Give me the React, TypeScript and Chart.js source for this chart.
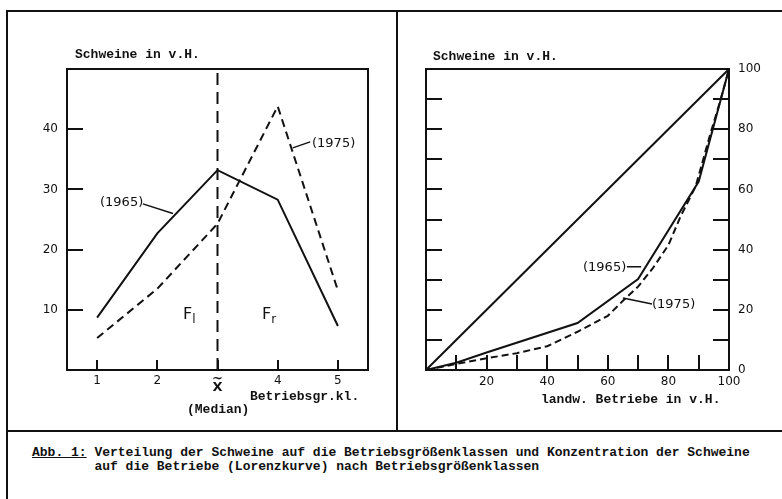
import React, { useEffect, useRef } from 'react';
import { Chart, registerables } from 'chart.js';
Chart.register(...registerables);

// ---------- data ----------
const classes = [1, 2, 3, 4, 5];
const classLabels: (string | string[])[] = ['1', '2', ['~', 'X'], '4', '5'];
const share1965 = [8.7, 22.7, 33.2, 28.3, 7.3];
const share1975 = [5.3, 13.5, 24.3, 43.8, 13.2];
const leftYTicks = [10, 20, 30, 40];
const leftYMax = 50;
const medianClass = 3;

const lorenzX1965 = [0, 10, 20, 50, 70, 90, 100];
const lorenzY1965 = [0, 2.4, 5.8, 15.6, 30.2, 62.6, 100];
const lorenzX1975 = [0, 10, 20, 30, 40, 50, 60, 65, 70, 75, 80, 84, 89, 94, 97, 100];
const lorenzY1975 = [0, 2, 3.9, 5.6, 7.9, 12.7, 18, 23, 27.7, 34, 41.5, 51, 61, 79, 89, 100];
const equalityX = [0, 100];
const equalityY = [0, 100];
const rightLabelTicks = [0, 20, 40, 60, 80, 100];
const rightMinorTicks = [10, 20, 30, 40, 50, 60, 70, 80, 90];
const rightXLabelTicks = [20, 40, 60, 80, 100];

// annotation leader lines, in data units [x1, y1, x2, y2]
const leftLeaders = [
  [1.76, 27.6, 2.26, 26.0],
  [4.25, 36.9, 4.54, 37.9],
];
const rightLeaders = [
  [66.3, 34.3, 71.0, 34.3],
  [74.6, 21.9, 65.0, 23.9],
];

const INK = '#111';
const SANS = '"DejaVu Sans", sans-serif';
const MONO = '"Liberation Mono", "DejaVu Sans Mono", monospace';

type TickSpec = { values: number[]; len: number };
function makeFramePlugin(cfg: {
  bottom?: TickSpec;
  left?: TickSpec;
  right?: TickSpec;
  leaders: number[][];
}) {
  return {
    id: 'frameTicks',
    afterDatasetsDraw(chart: any) {
      const { ctx, chartArea: a, scales } = chart;
      const xs = scales.x;
      const ys = scales.y;
      ctx.save();
      ctx.strokeStyle = INK;
      ctx.lineCap = 'butt';
      ctx.lineWidth = 2;
      ctx.strokeRect(a.left, a.top, a.right - a.left, a.bottom - a.top);
      const seg = (x1: number, y1: number, x2: number, y2: number) => {
        ctx.beginPath();
        ctx.moveTo(x1, y1);
        ctx.lineTo(x2, y2);
        ctx.stroke();
      };
      if (cfg.bottom) {
        cfg.bottom.values.forEach((v) => {
          const px = Math.round(xs.getPixelForValue(v));
          seg(px, a.bottom, px, a.bottom - cfg.bottom!.len);
        });
      }
      if (cfg.left) {
        cfg.left.values.forEach((v) => {
          const py = Math.round(ys.getPixelForValue(v));
          seg(a.left, py, a.left + cfg.left!.len, py);
        });
      }
      if (cfg.right) {
        cfg.right.values.forEach((v) => {
          const py = Math.round(ys.getPixelForValue(v));
          seg(a.right, py, a.right - cfg.right!.len, py);
        });
      }
      ctx.lineWidth = 1.5;
      cfg.leaders.forEach(([x1, y1, x2, y2]) => {
        seg(xs.getPixelForValue(x1), ys.getPixelForValue(y1), xs.getPixelForValue(x2), ys.getPixelForValue(y2));
      });
      ctx.restore();
    },
  };
}

const pts = (xs: number[], ys: number[]) => xs.map((x, i) => ({ x, y: ys[i] }));

function LeftChart() {
  const ref = useRef<HTMLCanvasElement>(null);
  useEffect(() => {
    const chart = new Chart(ref.current!, {
      type: 'line',
      data: {
        datasets: [
          {
            data: pts(classes, share1965),
            borderColor: INK,
            borderWidth: 2,
            pointRadius: 0,
            tension: 0,
          },
          {
            data: pts(classes, share1975),
            borderColor: INK,
            borderWidth: 2,
            borderDash: [8, 5],
            pointRadius: 0,
            tension: 0,
          },
          {
            data: [
              { x: medianClass, y: 0 },
              { x: medianClass, y: leftYMax },
            ],
            borderColor: INK,
            borderWidth: 2,
            borderDash: [12, 7],
            pointRadius: 0,
          },
        ],
      },
      options: {
        animation: false,
        responsive: false,
        maintainAspectRatio: false,
        layout: { padding: { left: 0, top: 69, right: 30, bottom: 0 } },
        plugins: { legend: { display: false }, tooltip: { enabled: false } },
        scales: {
          x: {
            type: 'linear',
            min: 0.5,
            max: 5.5,
            afterBuildTicks: (s: any) => {
              s.ticks = classes.map((v) => ({ value: v }));
            },
            afterFit: (s: any) => {
              s.height = 61;
            },
            grid: { display: false, drawTicks: false },
            border: { display: false },
            ticks: {
              padding: 4,
              color: INK,
              font: (c: any) =>
                c.index === 2
                  ? { family: SANS, size: 13, weight: 'bold', lineHeight: 0.72 }
                  : { family: SANS, size: 12 },
              maxRotation: 0,
              autoSkip: false,
              callback: (v: any) => {
                const i = classes.indexOf(Number(v));
                return i >= 0 ? classLabels[i] : '';
              },
            },
          },
          y: {
            type: 'linear',
            min: 0,
            max: leftYMax,
            afterBuildTicks: (s: any) => {
              s.ticks = leftYTicks.map((v) => ({ value: v }));
            },
            afterFit: (s: any) => {
              s.width = 67;
            },
            grid: { display: false, drawTicks: false },
            border: { display: false },
            ticks: { padding: 9, color: INK, font: { family: SANS, size: 12 } },
          },
        },
      },
      plugins: [
        makeFramePlugin({
          bottom: { values: classes, len: 10 },
          left: { values: leftYTicks, len: 16 },
          leaders: leftLeaders,
        }),
      ],
    } as any);
    return () => chart.destroy();
  }, []);
  return (
    <canvas
      ref={ref}
      width={398}
      height={431}
      style={{ position: 'absolute', left: 0, top: 0, width: 398, height: 431 }}
    />
  );
}

function RightChart() {
  const ref = useRef<HTMLCanvasElement>(null);
  useEffect(() => {
    const chart = new Chart(ref.current!, {
      type: 'line',
      data: {
        datasets: [
          {
            data: pts(equalityX, equalityY),
            borderColor: INK,
            borderWidth: 2,
            pointRadius: 0,
          },
          {
            data: pts(lorenzX1965, lorenzY1965),
            borderColor: INK,
            borderWidth: 2,
            pointRadius: 0,
            tension: 0,
          },
          {
            data: pts(lorenzX1975, lorenzY1975),
            borderColor: INK,
            borderWidth: 2,
            borderDash: [7, 4],
            pointRadius: 0,
            tension: 0,
          },
        ],
      },
      options: {
        animation: false,
        responsive: false,
        maintainAspectRatio: false,
        layout: { padding: { left: 28, top: 69, right: 0, bottom: 0 } },
        plugins: { legend: { display: false }, tooltip: { enabled: false } },
        scales: {
          x: {
            type: 'linear',
            min: 0,
            max: 100,
            afterBuildTicks: (s: any) => {
              s.ticks = rightXLabelTicks.map((v) => ({ value: v }));
            },
            afterFit: (s: any) => {
              s.height = 61;
            },
            grid: { display: false, drawTicks: false },
            border: { display: false },
            ticks: {
              padding: 5,
              color: INK,
              font: { family: SANS, size: 12 },
              maxRotation: 0,
              autoSkip: false,
            },
          },
          y: {
            type: 'linear',
            position: 'right',
            min: 0,
            max: 100,
            afterBuildTicks: (s: any) => {
              s.ticks = rightLabelTicks.map((v) => ({ value: v }));
            },
            afterFit: (s: any) => {
              s.width = 53;
            },
            grid: { display: false, drawTicks: false },
            border: { display: false },
            ticks: { padding: 9, color: INK, font: { family: SANS, size: 12 } },
          },
        },
      },
      plugins: [
        makeFramePlugin({
          bottom: { values: rightMinorTicks, len: 15 },
          left: { values: rightMinorTicks, len: 16 },
          right: { values: rightMinorTicks, len: 16 },
          leaders: rightLeaders,
        }),
      ],
    } as any);
    return () => chart.destroy();
  }, []);
  return (
    <canvas
      ref={ref}
      width={384}
      height={431}
      style={{ position: 'absolute', left: 398, top: 0, width: 384, height: 431 }}
    />
  );
}

const txt = (left: number, top: number, family: string, size: number, bold = false): React.CSSProperties => ({
  position: 'absolute',
  left,
  top,
  fontFamily: family,
  fontSize: size,
  fontWeight: bold ? 'bold' : 'normal',
  lineHeight: '16px',
  color: INK,
  whiteSpace: 'pre',
});

export default function App() {
  return (
    <div
      style={{
        position: 'fixed',
        left: 0,
        top: 0,
        width: 782,
        height: 499,
        background: '#fff',
        overflow: 'hidden',
      }}
    >
      {/* frame */}
      <div style={{ position: 'absolute', left: 6, top: 10, width: 776, height: 2, background: INK }} />
      <div style={{ position: 'absolute', left: 6, top: 10, width: 2, height: 489, background: INK }} />
      <div style={{ position: 'absolute', left: 396, top: 10, width: 2, height: 421, background: INK }} />
      <div style={{ position: 'absolute', left: 6, top: 430, width: 776, height: 2, background: INK }} />

      <LeftChart />
      <RightChart />

      {/* left panel texts */}
      <div style={txt(75, 47, MONO, 13, true)}>Schweine in v.H.</div>
      <div style={txt(250, 389, MONO, 13, true)}>Betriebsgr.kl.</div>
      <div style={txt(187, 402, MONO, 13, true)}>(Median)</div>
      <div style={txt(100, 194, SANS, 13)}>(1965)</div>
      <div style={txt(312, 135, SANS, 13)}>(1975)</div>
      <div style={txt(183, 306, SANS, 16)}>
        F<sub style={{ fontSize: 12 }}>l</sub>
      </div>
      <div style={txt(262, 306, SANS, 16)}>
        F<sub style={{ fontSize: 12 }}>r</sub>
      </div>

      {/* right panel texts */}
      <div style={txt(433, 49, MONO, 13, true)}>Schweine in v.H.</div>
      <div style={txt(541, 392, MONO, 13, true)}>landw. Betriebe in v.H.</div>
      <div style={txt(583, 259, SANS, 13)}>(1965)</div>
      <div style={txt(652, 296, SANS, 13)}>(1975)</div>

      {/* caption */}
      <div style={{ ...txt(32, 446, MONO, 13, true), lineHeight: '14px' }}>
        <span style={{ textDecoration: 'underline' }}>Abb. 1:</span>
        {' Verteilung der Schweine auf die Betriebsgrößenklassen und Konzentration der Schweine\n        auf die Betriebe (Lorenzkurve) nach Betriebsgrößenklassen'}
      </div>
    </div>
  );
}
